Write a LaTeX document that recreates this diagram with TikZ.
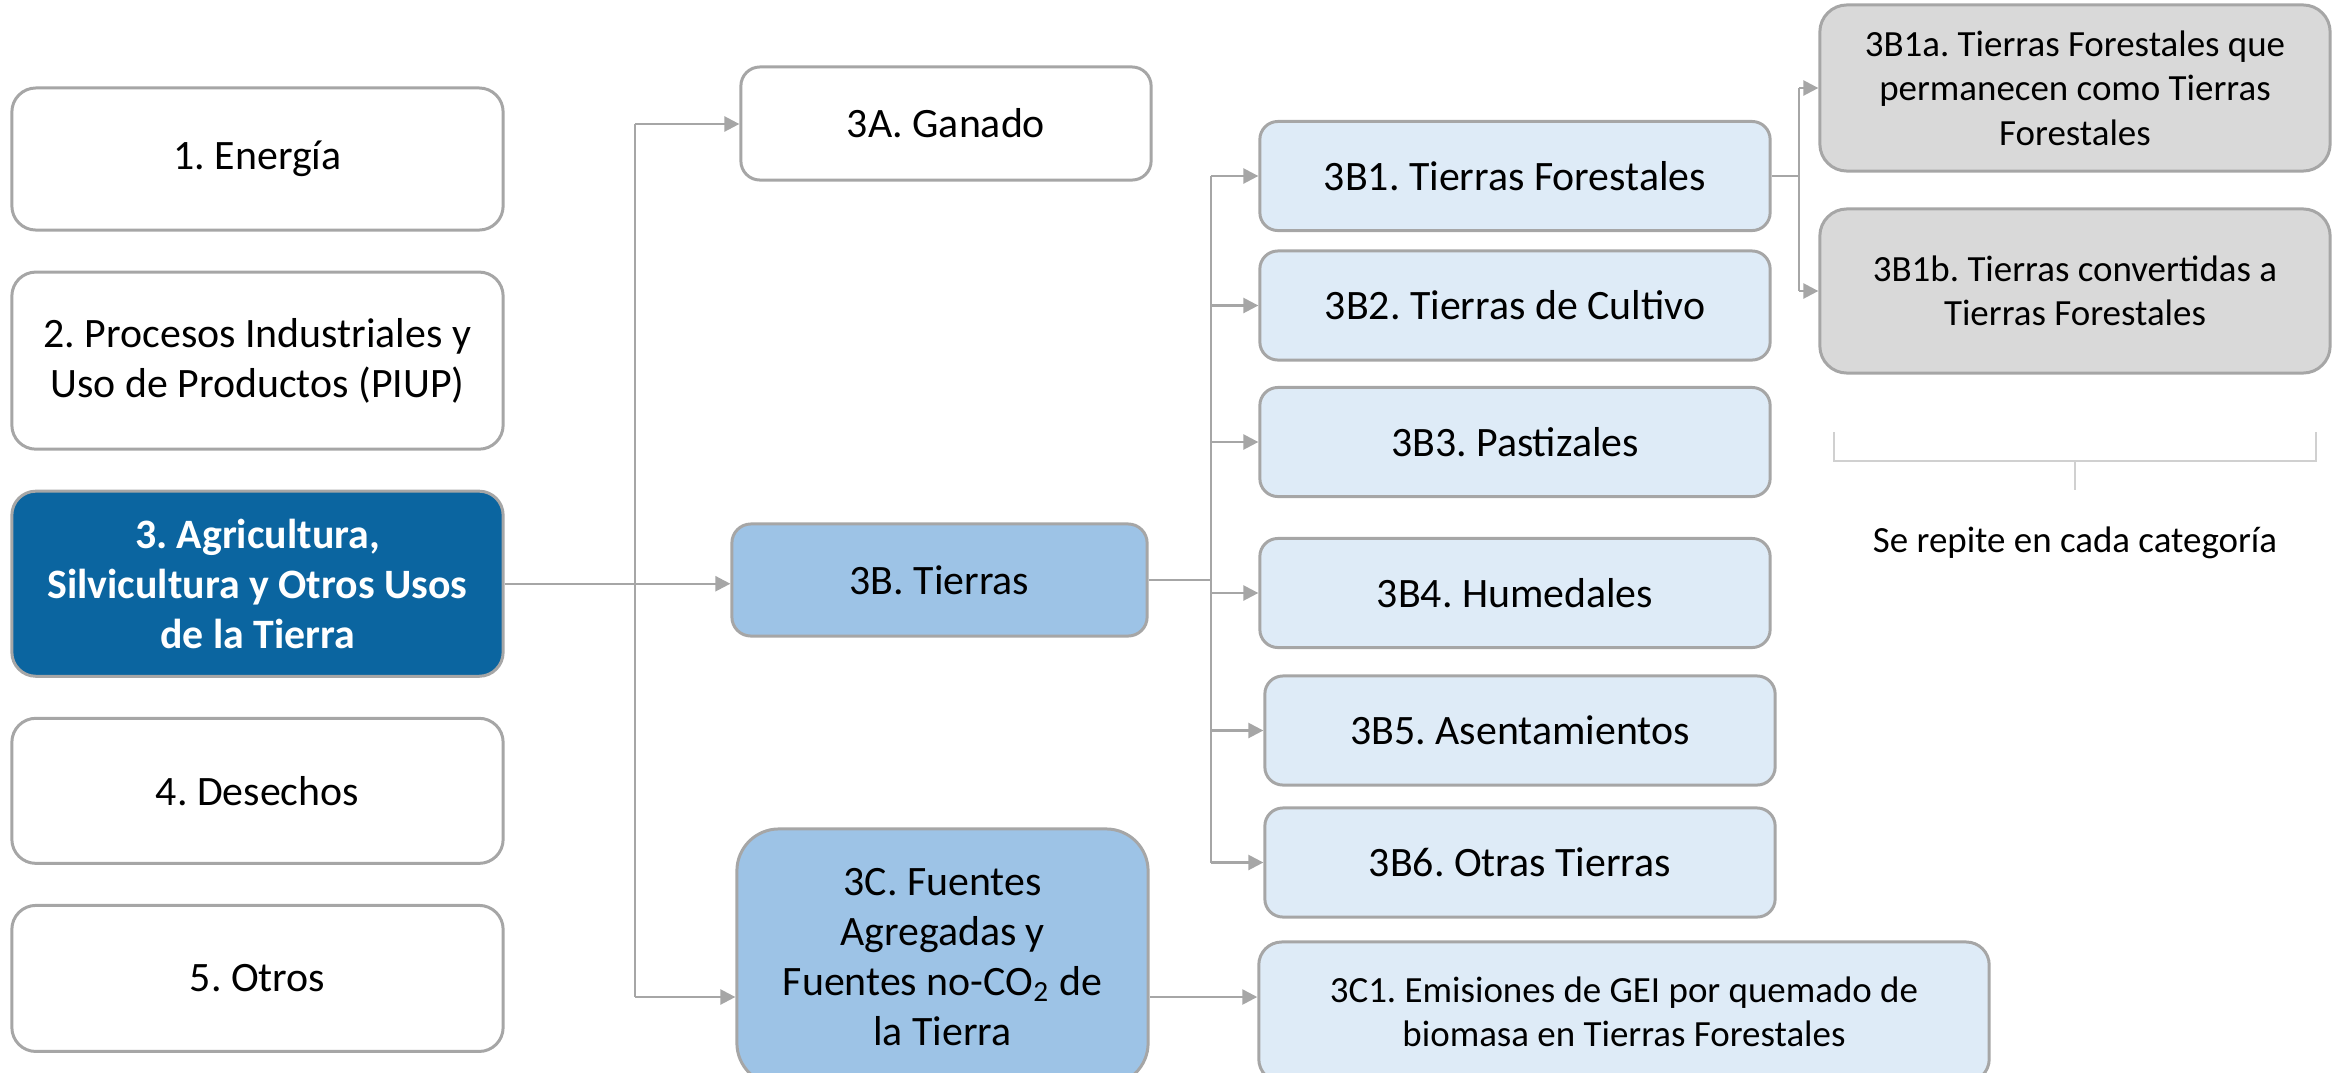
\documentclass[tikz,border=0pt]{standalone}
\usepackage{fontspec}
\setmainfont{Carlito}
\usepackage{tikz}
\usetikzlibrary{arrows.meta, positioning}
\frenchspacing

\definecolor{framegray}{HTML}{A6A6A6}
\definecolor{linegray}{HTML}{A6A6A6}
\definecolor{bracegray}{HTML}{D0D0D0}
\definecolor{afolublue}{HTML}{0B65A0}
\definecolor{midblue}{HTML}{9DC3E6}
\definecolor{paleblue}{HTML}{DEEBF7}
\definecolor{subgray}{HTML}{D9D9D9}

\begin{document}
\begin{tikzpicture}[
            x = 0.01cm, y = -0.01cm, % one unit per pixel, y runs down
            > = {Triangle[length=1.5mm, width=1.5mm]}, % arrow head style
            node distance = 0.39cm % gap in the left column
        ]

        \tikzstyle{box}=[
            draw = framegray,
            line width = 0.85pt,
            align = center,
            inner sep = 0pt,
            font = \fontsize{11.9}{14.2}\selectfont
        ]
        \tikzstyle{sector}=[box, fill = white, minimum width = 4.91cm, rounded corners = 0.24cm]
        \tikzstyle{afolu}=[sector, fill = afolublue, text = white,
            font = \fontsize{11.9}{14.2}\selectfont\bfseries]
        \tikzstyle{subcat}=[box, fill = midblue]
        \tikzstyle{landcat}=[box, fill = paleblue, minimum width = 5.10cm,
            minimum height = 1.09cm, rounded corners = 0.18cm]
        \tikzstyle{subland}=[box, fill = subgray, minimum width = 5.10cm,
            rounded corners = 0.27cm, font = \fontsize{10.5}{12.6}\selectfont]
        \tikzstyle{link}=[draw = linegray, line width = 0.5pt]
        \tikzstyle{arrowlink}=[link, line width = 0.7pt, ->]
        \tikzstyle{brace}=[draw = bracegray, line width = 0.6pt]

        \useasboundingbox (0,0) rectangle (2341,1072);

        % sectors
        \node[sector, minimum height = 1.42cm] (e1) at (257.5,159) {1. Energía};
        \node[sector, minimum height = 1.77cm] (e2) [below = of e1] {2. Procesos Industriales y\\Uso de Productos (PIUP)};
        \node[afolu, minimum height = 1.85cm] (e3) [below = of e2] {3. Agricultura,\\Silvicultura y Otros Usos\\de la Tierra};
        \node[sector, minimum height = 1.45cm] (e4) [below = of e3] {4. Desechos};
        \node[sector, minimum height = 1.46cm] (e5) [below = of e4] {5. Otros};

        % categories of sector 3
        \node[box, fill = white, minimum width = 4.10cm, minimum height = 1.13cm,
            rounded corners = 0.19cm] (g3A) at (946,123.5) {3A. Ganado};
        \node[subcat, minimum width = 4.15cm, minimum height = 1.12cm,
            rounded corners = 0.19cm] (t3B) at (939.5,580) {3B. Tierras};
        \node[subcat, minimum width = 4.11cm, minimum height = 2.56cm,
            rounded corners = 0.42cm] (f3C) at (942.5,957) {3C. Fuentes\\Agregadas y\\Fuentes no-CO\textsubscript{2} de\\la Tierra};

        % land categories
        \node[landcat] (b1) at (1515,176) {3B1. Tierras Forestales};
        \node[landcat] (b2) at (1515,305.5) {3B2. Tierras de Cultivo};
        \node[landcat] (b3) at (1515,442) {3B3. Pastizales};
        \node[landcat] (b4) at (1515,593) {3B4. Humedales};
        \node[landcat] (b5) at (1520,730.5) {3B5. Asentamientos};
        \node[landcat] (b6) at (1520,862.5) {3B6. Otras Tierras};
        \node[box, fill = paleblue, minimum width = 7.30cm, minimum height = 1.40cm,
            rounded corners = 0.23cm, font = \fontsize{10.5}{12.6}\selectfont]
            (c1) at (1624,1012) {3C1. Emisiones de GEI por quemado de\\biomasa en Tierras Forestales};

        % subdivisions of forest land
        \node[subland, minimum height = 1.66cm] (b1a) at (2075,88) {3B1a. Tierras Forestales que\\permanecen como Tierras\\Forestales};
        \node[subland, minimum height = 1.64cm] (b1b) at (2075,291) {3B1b. Tierras convertidas a\\Tierras Forestales};
        \node[font = \fontsize{10.5}{12.6}\selectfont] (note) at (2075,543) {Se repite en cada categoría};

        % trunks
        \coordinate (trunkA) at (635,124);
        \coordinate (trunkC) at (635,997);
        \coordinate (trunkB) at (1211,0);
        \coordinate (fork) at (1799,0);

        \path[link] (trunkA) -- (trunkC);
        \path[arrowlink] (trunkA) -- (trunkA -| g3A.west);
        \path[arrowlink] (e3) -- (e3 -| t3B.west);
        \path[arrowlink] (trunkC) -- (trunkC -| f3C.west);
        \path[arrowlink] (f3C.east |- trunkC) -- (trunkC -| c1.west);

        \path[link] (t3B) -- (t3B -| trunkB);
        \path[link] (trunkB |- b1) -- (trunkB |- b6);
        \foreach \i in {1,...,6}
            \path[arrowlink] (trunkB |- b\i) -- (b\i);

        \path[link] (b1) -- (b1 -| fork);
        \path[link] (fork |- b1a) -- (fork |- b1b);
        \path[arrowlink] (fork |- b1a) -- (b1a);
        \path[arrowlink] (fork |- b1b) -- (b1b);

        % bracket over the note
        \path[brace] (1834,432) |- (2316,461) -- (2316,432);
        \path[brace] (2075,461) -- (2075,490);

\end{tikzpicture}
\end{document}
